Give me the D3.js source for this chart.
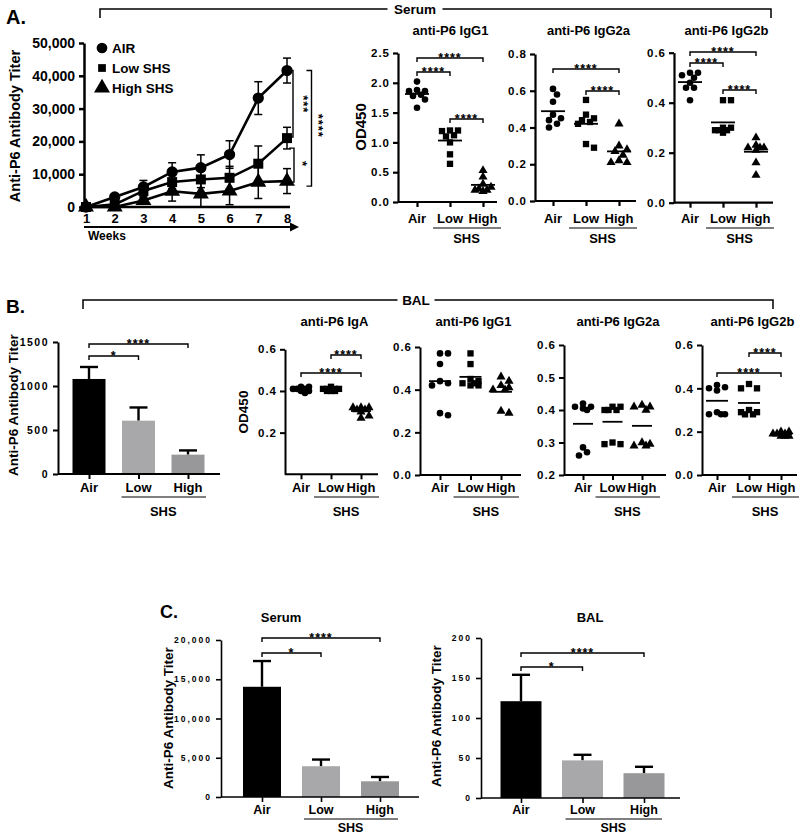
<!DOCTYPE html>
<html><head><meta charset="utf-8">
<script src="https://cdn.jsdelivr.net/npm/d3@7"></script>
<style>body{margin:0;background:#fff}</style>
</head><body><svg id="c" width="800" height="836" xmlns="http://www.w3.org/2000/svg"></svg>
<script>
// ---------------- DATA ----------------
const groups = ["Air", "Low", "High"];
const weeks = [1, 2, 3, 4, 5, 6, 7, 8];
const legendLabels = ["AIR", "Low SHS", "High SHS"];
const titerAir = [0, 3050, 6100, 10700, 12000, 16000, 33200, 41600];
const titerAirErr = [0, 500, 2000, 2800, 3900, 4200, 5000, 3800];
const titerLow = [0, 800, 4900, 7600, 8400, 8900, 13200, 21000];
const titerLowErr = [0, 300, 1500, 2000, 2500, 3500, 5400, 3300];
const titerHigh = [0, 0, 2000, 4800, 4000, 4900, 7600, 7900];
const titerHighErr = [0, 0, 1000, 3000, 4000, 4200, 5000, 3800];
const titerTicks = [0, 10000, 20000, 30000, 40000, 50000];

const serumIgG1 = [[2.02, 1.88, 1.86, 1.86, 1.80, 1.78, 1.72, 1.58], [1.20, 1.19, 1.20, 1.12, 1.10, 1.00, 0.80, 0.64], [0.53, 0.42, 0.30, 0.25, 0.20, 0.20, 0.18, 0.22]];
const serumIgG2a = [[0.61, 0.58, 0.54, 0.47, 0.45, 0.44, 0.42, 0.40], [0.55, 0.47, 0.45, 0.44, 0.43, 0.42, 0.31, 0.29], [0.42, 0.30, 0.28, 0.27, 0.25, 0.22, 0.21, 0.21]];
const serumIgG2b = [[0.52, 0.52, 0.51, 0.50, 0.48, 0.46, 0.46, 0.41], [0.41, 0.41, 0.30, 0.30, 0.29, 0.29, 0.28, 0.29], [0.26, 0.23, 0.22, 0.22, 0.22, 0.21, 0.16, 0.11]];

const balIgA = [[0.42, 0.42, 0.41, 0.41, 0.41, 0.40, 0.40, 0.39], [0.42, 0.41, 0.41, 0.41, 0.41, 0.40, 0.40, 0.40], [0.32, 0.32, 0.32, 0.31, 0.31, 0.30, 0.28, 0.27]];
const balIgG1 = [[0.57, 0.57, 0.52, 0.44, 0.43, 0.42, 0.29, 0.28], [0.57, 0.52, 0.45, 0.44, 0.43, 0.42, 0.42, 0.43], [0.46, 0.44, 0.42, 0.41, 0.40, 0.40, 0.30, 0.29]];
const balIgG2a = [[0.42, 0.41, 0.405, 0.40, 0.41, 0.285, 0.27, 0.26], [0.41, 0.41, 0.40, 0.40, 0.40, 0.30, 0.295, 0.295], [0.415, 0.41, 0.41, 0.40, 0.30, 0.295, 0.29, 0.29]];
const balIgG2b = [[0.415, 0.405, 0.40, 0.39, 0.29, 0.28, 0.28, 0.28], [0.42, 0.40, 0.40, 0.30, 0.29, 0.28, 0.28, 0.29], [0.20, 0.20, 0.19, 0.19, 0.19, 0.18, 0.18, 0.18]];

const balTiterB = [1080, 606, 220];
const balTiterBErr = [136, 150, 48];
const serumTiterC = [14040, 3920, 2000];
const serumTiterCErr = [3280, 850, 550];
const balTiterC = [121, 47, 31];
const balTiterCErr = [33, 7, 8];

// ---------------- DRAWING ----------------
const F = '"Liberation Sans", Arial, Helvetica, sans-serif';
const svg = d3.select("#c");
const barColors = ["#000000", "#a8a8aa", "#98989a"];
const symTypes = [d3.symbolCircle, d3.symbolSquare, d3.symbolTriangle];

function txt(g, x, y, s, size, anchor = "middle", o = {}) {
  const t = g.append("text").attr("x", x).attr("y", y).text(s)
    .attr("font-family", F).attr("font-weight", "bold").attr("font-size", size)
    .attr("text-anchor", anchor).attr("fill", o.fill || "#000");
  if (o.ls) t.attr("letter-spacing", o.ls);
  if (o.rot !== undefined) t.attr("transform", `rotate(${o.rot},${x},${y})`);
  if (o.dy) t.attr("dy", o.dy);
  return t;
}
function line(g, x1, y1, x2, y2, sw = 1.5, col = "#000") {
  return g.append("line").attr("x1", x1).attr("y1", y1).attr("x2", x2).attr("y2", y2)
    .attr("stroke", col).attr("stroke-width", sw);
}
function styleAxis(ax, fs, ls, sw) {
  ax.attr("font-family", F);
  ax.select(".domain").attr("stroke-width", sw);
  ax.selectAll(".tick line").attr("stroke-width", sw);
  ax.selectAll(".tick text").attr("font-size", fs).attr("font-weight", "bold")
    .attr("font-family", F).attr("fill", "#000").attr("letter-spacing", ls);
}
function bracket(g, x1, x2, y, label, fs = 12.5) {
  g.append("path").attr("d", `M${x1},${y + 4}V${y}H${x2}V${y + 4}`)
    .attr("fill", "none").attr("stroke", "#000").attr("stroke-width", 1.4);
  txt(g, (x1 + x2) / 2, y + 3.5, label, fs, "middle", { ls: 1 });
}
// compact beeswarm: points may overlap a little, spread limited to +-maxOff
function swarm(vals, cx, y, minD, step, maxOff) {
  const pts = vals.map(v => ({ v, py: y(v) })).sort((a, b) => b.v - a.v);
  const placed = [];
  pts.forEach(p => {
    let best = null, bestScore = -1;
    for (let k = 0; k < 40; k++) {
      const off = k === 0 ? 0 : (k % 2 ? 1 : -1) * Math.ceil(k / 2) * step;
      if (Math.abs(off) > maxOff) break;
      const px = cx + off;
      const dmin = placed.length ? d3.min(placed, q => Math.hypot(q.px - px, q.py - p.py)) : 1e9;
      if (dmin >= minD) { best = px; break; }
      if (dmin > bestScore) { bestScore = dmin; best = px; }
    }
    p.px = best;
    placed.push(p);
  });
  return placed;
}
function catLabels(g, x, o) {
  groups.forEach(c => txt(g, x(c), o.labelY, c, o.labelSize || 13));
  line(g, x("Low") - 17, o.shsLineY, x("High") + 18, o.shsLineY, 1.3, "#555");
  txt(g, (x("Low") + x("High")) / 2, o.shsY, "SHS", o.labelSize || 13);
}

function scatterPanel(o) {
  const g = svg.append("g");
  const y = d3.scaleLinear().domain(o.domain).range(o.yRange);
  const x = d3.scalePoint().domain(groups).range(o.cats);
  const yb = o.yRange[0];
  const ax = g.append("g").attr("transform", `translate(${o.axisX},0)`)
    .call(d3.axisLeft(y).tickValues(o.ticks).tickFormat(o.fmt).tickSize(5).tickSizeOuter(0).tickPadding(3));
  styleAxis(ax, o.tickSize || 11.5, 1, o.sw || 2.2);
  const bx = g.append("g").attr("transform", `translate(0,${yb})`)
    .call(d3.axisBottom(x).tickSize(5).tickSizeOuter(0).tickFormat(""));
  bx.select(".domain").remove();
  bx.selectAll(".tick line").attr("stroke-width", o.sw || 2.2);
  line(g, o.axisX, yb, o.axisEnd, yb, o.sw || 2.2);
  txt(g, (o.axisX + o.axisEnd) / 2 + 3, o.titleY, o.title, 13);
  if (o.ylabel) txt(g, o.ylabelX, o.ylabelY, o.ylabel, o.ylabelSize || 15, "middle", { rot: -90, dy: "0.35em" });
  catLabels(g, x, o);
  o.data.forEach((vals, gi) => {
    const cx = x(groups[gi]);
    const pts = swarm(vals, cx, y, 6, 4, 11);
    g.selectAll(null).data(pts).join("path")
      .attr("transform", d => `translate(${d.px},${d.py})`)
      .attr("d", d3.symbol().type(symTypes[gi]).size([34, 40, 36][gi]))
      .attr("fill", "#000");
    const m = d3.mean(vals);
    line(g, cx - o.meanW / 2, y(m), cx + o.meanW / 2, y(m), 1.8);
  });
  (o.brackets || []).forEach(b => bracket(g, x(groups[b[0]]), x(groups[b[1]]), b[2], b[3]));
}

function barPanel(o) {
  const g = svg.append("g");
  const y = d3.scaleLinear().domain(o.domain).range(o.yRange);
  const x = d3.scalePoint().domain(groups).range(o.cats);
  const yb = o.yRange[0];
  g.selectAll(null).data(o.values).join("line")
    .attr("x1", (d, i) => x(groups[i])).attr("x2", (d, i) => x(groups[i]))
    .attr("y1", d => y(d)).attr("y2", (d, i) => y(d + o.errs[i]))
    .attr("stroke", "#000").attr("stroke-width", 2.4);
  g.selectAll(null).data(o.values).join("line")
    .attr("x1", (d, i) => x(groups[i]) - o.capW / 2).attr("x2", (d, i) => x(groups[i]) + o.capW / 2)
    .attr("y1", (d, i) => y(d + o.errs[i])).attr("y2", (d, i) => y(d + o.errs[i]))
    .attr("stroke", "#000").attr("stroke-width", 2.4);
  g.selectAll(null).data(o.values).join("rect")
    .attr("x", (d, i) => x(groups[i]) - o.bw / 2).attr("width", o.bw)
    .attr("y", d => y(d)).attr("height", d => yb - y(d))
    .attr("fill", (d, i) => barColors[i]);
  const ax = g.append("g").attr("transform", `translate(${o.axisX},0)`)
    .call(d3.axisLeft(y).tickValues(o.ticks).tickFormat(o.fmt).tickSize(5).tickSizeOuter(0).tickPadding(4));
  styleAxis(ax, o.tickSize, o.tickLs, o.sw);
  const bx = g.append("g").attr("transform", `translate(0,${yb})`)
    .call(d3.axisBottom(x).tickSize(5).tickSizeOuter(0).tickFormat(""));
  bx.select(".domain").remove();
  bx.selectAll(".tick line").attr("stroke-width", o.sw);
  line(g, o.axisX, yb, o.axisEnd, yb, o.sw);
  if (o.title) txt(g, o.titleX, o.titleY, o.title, 13);
  txt(g, o.ylabelX, o.ylabelY, "Anti-P6 Antibody Titer", o.ylabelSize, "middle", { rot: -90, dy: "0.35em" });
  catLabels(g, x, o);
  o.brackets.forEach(b => bracket(g, x(groups[b[0]]), x(groups[b[1]]), b[2], b[3]));
}

// ----- Panel letters & group brackets -----
txt(svg, 6, 24, "A.", 20, "start");
txt(svg, 6, 313, "B.", 19, "start");
txt(svg, 160, 618, "C.", 18, "start");

function groupBracket(x1, x2, y, label, cx) {
  svg.append("path").attr("d", `M${x1},${y + 9}V${y}H${x2}V${y + 9}`)
    .attr("fill", "none").attr("stroke", "#000").attr("stroke-width", 1.5);
  const w = label.length * 9 + 10;
  svg.append("rect").attr("x", cx - w / 2).attr("y", y - 8).attr("width", w).attr("height", 14).attr("fill", "#fff");
  txt(svg, cx, y + 5, label, 13.5);
}
groupBracket(100, 771, 9, "Serum", 415);
groupBracket(83, 773, 300, "BAL", 416);

// ----- Panel A line chart -----
(function () {
  const g = svg.append("g");
  const x = d3.scaleLinear().domain([1, 8]).range([86, 287]);
  const y = d3.scaleLinear().domain([0, 50000]).range([207, 43]);
  const ax = g.append("g").attr("transform", "translate(84,0)")
    .call(d3.axisLeft(y).tickValues(titerTicks).tickFormat(d3.format(",")).tickSize(5).tickSizeOuter(0).tickPadding(4));
  styleAxis(ax, 14, 0, 2.5);
  const bx = g.append("g").attr("transform", "translate(0,207)")
    .call(d3.axisBottom(x).tickValues(weeks).tickFormat(d3.format("d")).tickSize(0).tickPadding(7));
  bx.select(".domain").remove();
  styleAxis(bx, 13, 0, 2.5);
  line(g, 84, 207, 290, 207, 2.5);
  // arrow
  line(g, 84, 227, 292, 227, 2);
  g.append("path").attr("d", "M290,222.5L299,227L290,231.5Z").attr("fill", "#000");
  txt(g, 88, 240, "Weeks", 12, "start");
  txt(g, 15, 126, "Anti-P6 Antibody Titer", 14.5, "middle", { rot: -90, dy: "0.35em" });

  const series = [[titerAir, titerAirErr], [titerLow, titerLowErr], [titerHigh, titerHighErr]];
  const lg = d3.line().x((d, i) => x(weeks[i])).y(d => y(d));
  series.forEach(([vals, errs]) => {
    vals.forEach((v, i) => {
      if (!errs[i]) return;
      const xx = x(weeks[i]);
      line(g, xx, y(v - errs[i]), xx, y(v + errs[i]), 1.5);
      line(g, xx - 4, y(v + errs[i]), xx + 4, y(v + errs[i]), 1.5);
      line(g, xx - 4, y(v - errs[i]), xx + 4, y(v - errs[i]), 1.5);
    });
  });
  series.forEach(([vals], si) => {
    g.append("path").attr("d", lg(vals)).attr("fill", "none").attr("stroke", "#000").attr("stroke-width", 2.6);
    g.selectAll(null).data(vals).join("path")
      .attr("transform", (d, i) => `translate(${x(weeks[i])},${y(d)})`)
      .attr("d", d3.symbol().type(symTypes[si]).size([100, 100, 110][si])).attr("fill", "#000");
  });
  // legend
  legendLabels.forEach((l, i) => {
    const ly = [48, 68, 88][i];
    g.append("path").attr("transform", `translate(102,${ly})`)
      .attr("d", d3.symbol().type(symTypes[i]).size([90, 60, 110][i])).attr("fill", "#000");
    txt(g, 112, ly + 5, l, 13.5, "start");
  });
  // significance
  function vb(xv, y1, y2) {
    g.append("path").attr("d", `M${xv - 5},${y1}H${xv}V${y2}H${xv - 5}`)
      .attr("fill", "none").attr("stroke", "#000").attr("stroke-width", 1.4);
  }
  vb(293, y(titerAir[7]), y(titerLow[7]) - 1);
  txt(g, 299, (y(titerAir[7]) + y(titerLow[7])) / 2, "***", 13, "middle", { rot: 90, ls: 1 });
  vb(294, y(titerLow[7]) + 10, y(titerHigh[7]) + 1);
  txt(g, 298, (y(titerLow[7]) + y(titerHigh[7])) / 2 + 4, "*", 13, "middle", { rot: 90 });
  vb(311.5, y(titerAir[7]), y(titerHigh[7]) + 5);
  txt(g, 314, (y(titerAir[7]) + y(titerHigh[7])) / 2, "****", 13, "middle", { rot: 90, ls: 1 });
})();

// ----- Panel A scatters -----
const f1 = d3.format(".1f");
scatterPanel({ data: serumIgG1, title: "anti-P6 IgG1", titleY: 35, axisX: 398, axisEnd: 497, yRange: [202, 53], domain: [0, 2.5],
  ticks: [0, 0.5, 1, 1.5, 2, 2.5], fmt: f1, cats: [417, 483], labelY: 223, shsLineY: 228, shsY: 243,
  ylabel: "OD450", ylabelX: 361, ylabelY: 127, ylabelSize: 15, meanW: 24,
  brackets: [[0, 2, 58, "****"], [0, 1, 72, "****"], [1, 2, 119, "****"]] });
scatterPanel({ data: serumIgG2a, title: "anti-P6 IgG2a", titleY: 35, axisX: 535, axisEnd: 636, yRange: [201, 54], domain: [0, 0.8],
  ticks: [0, 0.2, 0.4, 0.6, 0.8], fmt: f1, cats: [553, 619], labelY: 223, shsLineY: 228, shsY: 243, meanW: 24,
  brackets: [[0, 2, 69, "****"], [1, 2, 91, "****"]] });
scatterPanel({ data: serumIgG2b, title: "anti-P6 IgG2b", titleY: 35, axisX: 674, axisEnd: 773, yRange: [202.7, 52.7], domain: [0, 0.6],
  ticks: [0, 0.2, 0.4, 0.6], fmt: f1, cats: [690, 756], labelY: 223, shsLineY: 228, shsY: 243, meanW: 24,
  brackets: [[0, 2, 52, "****"], [0, 1, 63, "****"], [1, 2, 90, "****"]] });

// ----- Panel B -----
barPanel({ values: balTiterB, errs: balTiterBErr, domain: [0, 1500], yRange: [474, 342], axisX: 58, axisEnd: 220,
  cats: [89, 188], bw: 33, capW: 18, ticks: [0, 500, 1000, 1500], fmt: d3.format("d"), tickSize: 10.5, tickLs: 1.5, sw: 2,
  ylabelX: 13, ylabelY: 405, ylabelSize: 13.5, labelY: 492, shsLineY: 497, shsY: 516,
  brackets: [[0, 2, 344, "****"], [0, 1, 356, "*"]] });
scatterPanel({ data: balIgA, title: "anti-P6 IgA", titleY: 326, axisX: 285, axisEnd: 378, yRange: [474.3, 349.3], domain: [0, 0.6],
  ticks: [0.2, 0.4, 0.6], fmt: f1, cats: [301, 361], labelY: 492, shsLineY: 497, shsY: 516, sw: 2,
  ylabel: "OD450", ylabelX: 243, ylabelY: 412, ylabelSize: 13.5, meanW: 20,
  brackets: [[1, 2, 355, "****"], [0, 2, 373, "****"]] });
scatterPanel({ data: balIgG1, title: "anti-P6 IgG1", titleY: 326, axisX: 420, axisEnd: 521, yRange: [475, 347], domain: [0, 0.6],
  ticks: [0, 0.2, 0.4, 0.6], fmt: f1, cats: [440, 501], labelY: 492, shsLineY: 497, shsY: 516, sw: 2, meanW: 22, brackets: [] });
scatterPanel({ data: balIgG2a, title: "anti-P6 IgG2a", titleY: 326, axisX: 564, axisEnd: 666, yRange: [475, 345], domain: [0.2, 0.6],
  ticks: [0.2, 0.3, 0.4, 0.5, 0.6], fmt: f1, cats: [583, 642], labelY: 492, shsLineY: 497, shsY: 516, sw: 2, meanW: 20, brackets: [] });
scatterPanel({ data: balIgG2b, title: "anti-P6 IgG2b", titleY: 326, axisX: 702, axisEnd: 797, yRange: [475, 345], domain: [0, 0.6],
  ticks: [0, 0.2, 0.4, 0.6], fmt: f1, cats: [717, 781], labelY: 492, shsLineY: 497, shsY: 516, sw: 2, meanW: 22,
  brackets: [[1, 2, 353, "****"], [0, 2, 373, "****"]] });

// ----- Panel C -----
barPanel({ values: serumTiterC, errs: serumTiterCErr, domain: [0, 20000], yRange: [797, 640], axisX: 221, axisEnd: 419,
  cats: [262, 380], bw: 38, capW: 18, ticks: [0, 5000, 10000, 15000, 20000], fmt: d3.format(","), tickSize: 8.5, tickLs: 2, sw: 1.6,
  title: "Serum", titleX: 281, titleY: 622,
  ylabelX: 168, ylabelY: 718, ylabelSize: 13.5, labelY: 814, shsLineY: 819, shsY: 832, labelSize: 12.5,
  brackets: [[0, 2, 638, "****"], [0, 1, 653, "*"]] });
barPanel({ values: balTiterC, errs: balTiterCErr, domain: [0, 200], yRange: [798, 638], axisX: 481, axisEnd: 680,
  cats: [521, 644], bw: 41, capW: 18, ticks: [0, 50, 100, 150, 200], fmt: d3.format("d"), tickSize: 8.5, tickLs: 2, sw: 1.6,
  title: "BAL", titleX: 590, titleY: 622,
  ylabelX: 436, ylabelY: 716, ylabelSize: 13.5, labelY: 814, shsLineY: 819, shsY: 832, labelSize: 12.5,
  brackets: [[0, 2, 653, "****"], [0, 1, 667, "*"]] });
</script>
</body></html>
